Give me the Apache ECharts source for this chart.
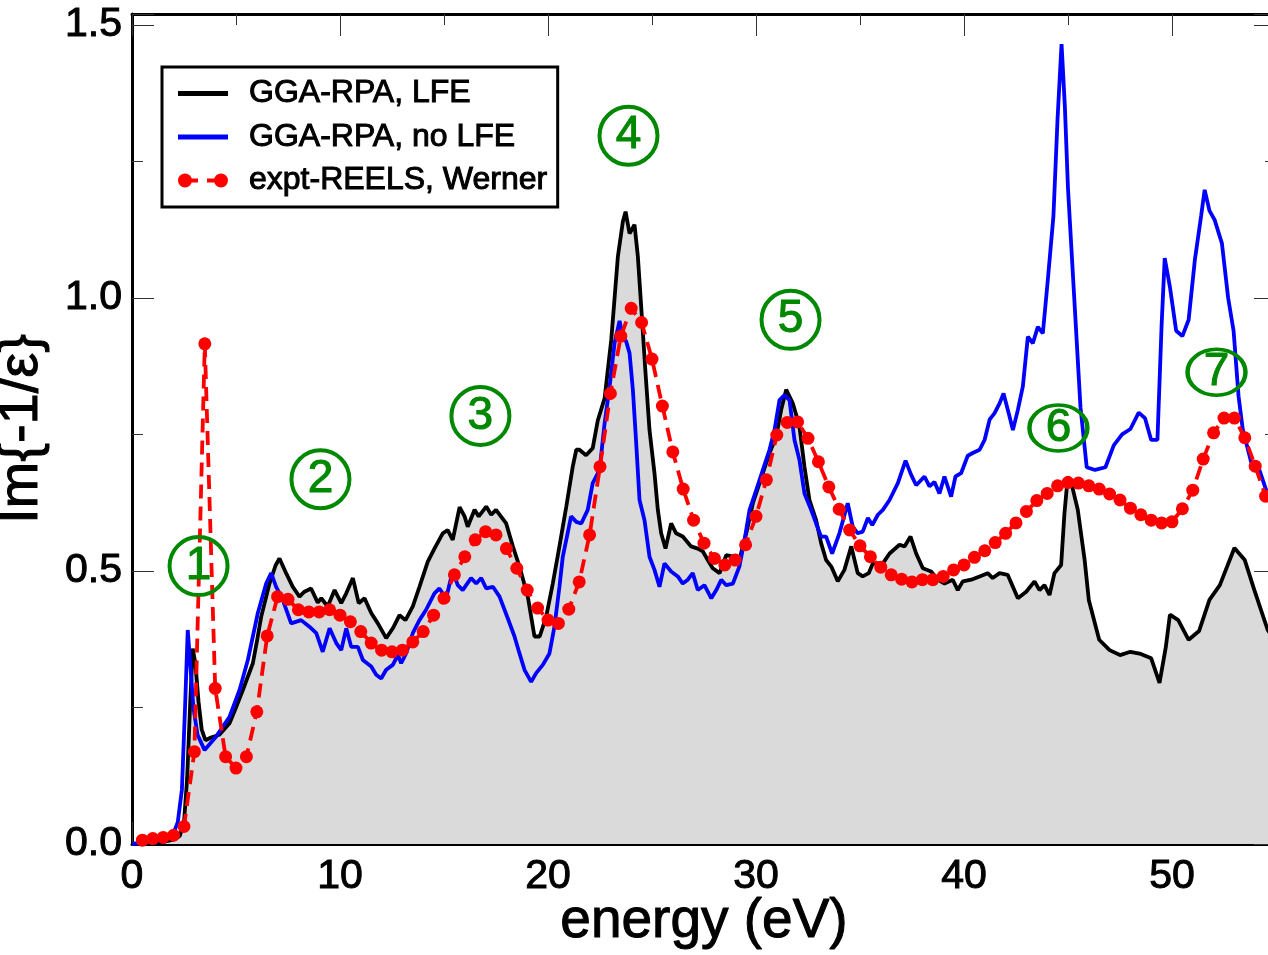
<!DOCTYPE html>
<html>
<head>
<meta charset="utf-8">
<script src="https://cdn.jsdelivr.net/npm/echarts@6/dist/echarts.min.js"></script>
<style>
html,body{margin:0;padding:0;background:#fff;}
#chart{width:1268px;height:955px;}
</style>
</head>
<body>
<div id="chart"></div>
<script>
// ---- data (energy eV, Im{-1/eps}) ----
const seriesNames = ['GGA-RPA, LFE', 'GGA-RPA, no LFE', 'expt-REELS, Werner'];

const lfe = [[0,0],[0.5,0.001],[1,0.002],[1.5,0.004],[2,0.008],[2.3,0.015],[2.5,0.04],[2.65,0.12],[2.8,0.26],[2.92,0.358],[3.05,0.33],[3.2,0.26],[3.35,0.21],[3.53,0.19],[3.8,0.195],[4.2,0.2],[4.69,0.221],[5.0,0.25],[5.33,0.282],[5.81,0.331],[6.0,0.37],[6.21,0.416],[6.61,0.477],[6.9,0.51],[7.09,0.523],[7.41,0.496],[7.73,0.471],[8.05,0.453],[8.29,0.462],[8.61,0.468],[8.93,0.442],[9.1,0.45],[9.41,0.435],[9.74,0.465],[10.06,0.441],[10.3,0.459],[10.62,0.487],[10.9,0.441],[11.18,0.45],[11.5,0.423],[11.82,0.404],[12.22,0.377],[12.54,0.395],[12.86,0.419],[13.15,0.41],[13.5,0.435],[13.82,0.471],[14.22,0.517],[14.54,0.541],[14.94,0.569],[15.18,0.575],[15.42,0.557],[15.75,0.617],[15.99,0.6],[16.14,0.581],[16.47,0.612],[16.67,0.6],[17.03,0.618],[17.27,0.603],[17.5,0.612],[17.99,0.587],[18.31,0.545],[18.63,0.508],[19.03,0.453],[19.35,0.38],[19.6,0.38],[19.91,0.416],[20.23,0.477],[20.55,0.545],[20.88,0.618],[21.19,0.691],[21.36,0.722],[21.51,0.722],[21.83,0.712],[22.15,0.725],[22.39,0.775],[22.72,0.816],[23.04,0.923],[23.36,1.076],[23.6,1.14],[23.73,1.158],[23.92,1.118],[24.16,1.134],[24.32,1.076],[24.48,0.984],[24.69,0.862],[24.88,0.758],[25.12,0.679],[25.28,0.612],[25.44,0.569],[25.65,0.541],[25.92,0.587],[26.16,0.569],[26.48,0.563],[26.88,0.545],[27.2,0.541],[27.44,0.536],[27.68,0.52],[27.92,0.505],[28.25,0.496],[28.57,0.529],[28.97,0.526],[29.2,0.52],[29.53,0.569],[29.85,0.624],[30.25,0.67],[30.65,0.716],[30.97,0.746],[31.21,0.795],[31.45,0.832],[31.77,0.807],[32.0,0.777],[32.09,0.764],[32.33,0.691],[32.57,0.63],[32.89,0.593],[33.13,0.551],[33.37,0.52],[33.62,0.508],[33.93,0.481],[34.25,0.502],[34.58,0.545],[34.89,0.496],[35.13,0.49],[35.42,0.496],[35.62,0.514],[36.1,0.514],[36.42,0.532],[36.9,0.548],[37.14,0.545],[37.43,0.563],[37.7,0.532],[38.02,0.505],[38.42,0.499],[38.74,0.484],[39.06,0.477],[39.46,0.484],[39.7,0.465],[39.94,0.481],[40.35,0.484],[40.75,0.49],[41.14,0.496],[41.38,0.487],[41.71,0.496],[42.1,0.493],[42.35,0.471],[42.59,0.45],[42.99,0.462],[43.39,0.481],[43.63,0.465],[43.87,0.474],[44.11,0.456],[44.35,0.496],[44.67,0.511],[44.83,0.606],[44.99,0.673],[45.2,0.655],[45.47,0.612],[45.8,0.52],[46.0,0.447],[46.5,0.374],[47.0,0.355],[47.5,0.346],[48.0,0.352],[48.5,0.348],[49.0,0.34],[49.4,0.295],[49.7,0.36],[49.9,0.42],[50.3,0.41],[50.8,0.374],[51.3,0.39],[51.8,0.447],[52.3,0.474],[53.0,0.542],[53.5,0.52],[53.96,0.465],[54.6,0.392],[55,0.37]];

const noLfe = [[0,0],[0.5,0.002],[1,0.004],[1.5,0.008],[2,0.02],[2.2,0.04],[2.4,0.1],[2.55,0.25],[2.68,0.392],[2.8,0.33],[2.95,0.25],[3.15,0.2],[3.49,0.172],[4.05,0.197],[4.69,0.233],[5.17,0.282],[5.57,0.337],[6.05,0.423],[6.45,0.477],[6.69,0.496],[6.93,0.471],[7.25,0.447],[7.65,0.404],[8.13,0.41],[8.53,0.398],[8.86,0.386],[9.17,0.352],[9.5,0.395],[9.82,0.368],[10.06,0.355],[10.3,0.395],[10.54,0.361],[10.86,0.361],[11.1,0.337],[11.5,0.325],[11.74,0.31],[11.98,0.303],[12.22,0.319],[12.54,0.328],[12.78,0.346],[12.94,0.331],[13.18,0.349],[13.5,0.386],[13.82,0.41],[14.14,0.429],[14.54,0.459],[14.78,0.468],[15.1,0.45],[15.42,0.5],[15.66,0.474],[15.9,0.465],[16.3,0.487],[16.55,0.477],[16.79,0.487],[17.03,0.468],[17.35,0.471],[17.67,0.453],[18.07,0.413],[18.39,0.38],[18.63,0.349],[18.87,0.319],[19.19,0.297],[19.43,0.313],[19.75,0.328],[20.07,0.349],[20.31,0.398],[20.55,0.471],[20.71,0.526],[21.11,0.6],[21.36,0.59],[21.6,0.587],[21.91,0.612],[22.15,0.661],[22.48,0.685],[22.72,0.77],[22.96,0.837],[23.2,0.917],[23.44,0.958],[23.6,0.929],[23.76,0.92],[23.92,0.899],[24.08,0.832],[24.24,0.734],[24.4,0.63],[24.64,0.593],[24.88,0.526],[25.12,0.502],[25.36,0.471],[25.6,0.514],[25.92,0.499],[26.24,0.49],[26.48,0.477],[26.72,0.484],[26.96,0.496],[27.2,0.465],[27.52,0.474],[27.85,0.45],[28.09,0.465],[28.33,0.484],[28.57,0.474],[28.89,0.477],[29.2,0.508],[29.45,0.557],[29.69,0.612],[30.01,0.648],[30.33,0.685],[30.65,0.722],[30.89,0.758],[31.13,0.813],[31.37,0.822],[31.61,0.813],[31.85,0.74],[32.09,0.703],[32.33,0.642],[32.65,0.612],[32.89,0.587],[33.13,0.563],[33.37,0.563],[33.66,0.532],[34.01,0.569],[34.41,0.624],[34.65,0.581],[34.89,0.569],[35.13,0.572],[35.38,0.597],[35.59,0.584],[35.86,0.603],[36.1,0.612],[36.42,0.63],[36.82,0.661],[37.19,0.702],[37.46,0.676],[37.7,0.657],[38.1,0.673],[38.34,0.655],[38.58,0.663],[38.82,0.642],[39.06,0.673],[39.38,0.636],[39.59,0.673],[39.86,0.679],[40.18,0.711],[40.42,0.716],[40.75,0.722],[40.99,0.74],[41.23,0.777],[41.47,0.789],[41.71,0.807],[41.9,0.825],[42.19,0.783],[42.35,0.758],[42.59,0.795],[42.83,0.838],[43.07,0.929],[43.31,0.917],[43.55,0.947],[43.79,0.935],[44.03,1.033],[44.3,1.15],[44.5,1.33],[44.69,1.465],[44.85,1.35],[45.0,1.2],[45.3,1.0],[45.6,0.8],[45.9,0.69],[46.3,0.685],[46.8,0.69],[47.2,0.73],[47.6,0.75],[48.0,0.76],[48.4,0.79],[48.7,0.78],[49.0,0.74],[49.3,0.74],[49.5,0.95],[49.65,1.073],[49.9,1.02],[50.2,0.94],[50.5,0.93],[50.8,0.96],[51.1,1.07],[51.4,1.15],[51.57,1.198],[51.8,1.16],[52.05,1.143],[52.4,1.1],[52.7,1.0],[52.96,0.94],[53.2,0.82],[53.4,0.76],[53.8,0.7],[54.2,0.685],[54.6,0.64],[55,0.6]];

const exptE = [0.5,1.0,1.5,2.0,2.5,3.0,3.5,4.0,4.5,5.0,5.5,6.0,6.5,7.0,7.5,8.0,8.5,9.0,9.5,10.0,10.5,11.0,11.5,12.0,12.5,13.0,13.5,14.0,14.5,15.0,15.5,16.0,16.5,17.0,17.5,18.0,18.5,19.0,19.5,20.0,20.5,21.0,21.5,22.0,22.5,23.0,23.5,24.0,24.5,25.0,25.5,26.0,26.5,27.0,27.5,28.0,28.5,29.0,29.5,30.0,30.5,31.0,31.5,32.0,32.5,33.0,33.5,34.0,34.5,35.0,35.5,36.0,36.5,37.0,37.5,38.0,38.5,39.0,39.5,40.0,40.5,41.0,41.5,42.0,42.5,43.0,43.5,44.0,44.5,45.0,45.5,46.0,46.5,47.0,47.5,48.0,48.5,49.0,49.5,50.0,50.5,51.0,51.5,52.0,52.5,53.0,53.5,54.0,54.5];
const exptV = [0.007,0.01,0.012,0.016,0.032,0.169,0.916,0.285,0.16,0.139,0.16,0.242,0.381,0.453,0.448,0.429,0.425,0.425,0.429,0.419,0.407,0.389,0.368,0.355,0.352,0.355,0.37,0.389,0.419,0.45,0.493,0.526,0.557,0.572,0.566,0.541,0.505,0.465,0.432,0.41,0.404,0.43,0.48,0.566,0.691,0.825,0.93,0.981,0.955,0.888,0.802,0.718,0.65,0.593,0.551,0.523,0.511,0.52,0.548,0.6,0.667,0.749,0.772,0.773,0.743,0.7,0.654,0.613,0.575,0.546,0.526,0.507,0.493,0.485,0.48,0.484,0.484,0.49,0.502,0.511,0.525,0.537,0.552,0.569,0.588,0.609,0.629,0.642,0.656,0.662,0.661,0.656,0.65,0.641,0.63,0.615,0.603,0.593,0.588,0.59,0.614,0.648,0.705,0.753,0.78,0.78,0.744,0.692,0.637];

// peak annotations: label, energy, value
const peakLabels = ['1','2','3','4','5','6','7'];
const peakE = [3.2, 9.06, 16.75, 23.87, 31.66, 44.54, 52.14];
const peakV = [0.509, 0.668, 0.784, 1.297, 0.96, 0.762, 0.864];
const peakOval = [false, false, false, false, false, true, true];

// axis ticks
const xTickLabels = [0, 10, 20, 30, 40, 50];
const yTickLabels = ['0.0', '0.5', '1.0', '1.5'];

const FONT = 'Liberation Sans, Arial, Helvetica, sans-serif';
const GREEN = '#008800';

const chart = echarts.init(document.getElementById('chart'), null, {renderer: 'canvas'});

const tickStyle = {show: true, inside: true, length: 22, lineStyle: {color: '#333', width: 1}};
const minorStyle = {show: true, splitNumber: 2, length: 11, lineStyle: {color: '#333', width: 1}};
const frameLine = {show: true, onZero: false, lineStyle: {color: '#000', width: 3}};
const heavy = c => ({textBorderColor: c, textBorderWidth: 1});

const expt = exptE.map((e, i) => [e, exptV[i]]);
const peaks = peakE.map((e, i) => ({
  value: [e, peakV[i]],
  name: peakLabels[i],
  symbolSize: peakOval[i] ? [58, 46] : [58, 58]
}));

// legend icons; invisible move-to points pad the box to 50x28
const lineIcon = 'path://M0,0 M0,11.5 L50,11.5 L50,16.5 L0,16.5 Z M50,28';
const dotIcon = 'path://M0,0 M0,14 A7,7 0 1,1 14,14 A7,7 0 1,1 0,14 Z' +
  ' M13.5,12 L20,12 L20,16 L13.5,16 Z M29,12 L36.5,12 L36.5,16 L29,16 Z' +
  ' M36,14 A7,7 0 1,1 50,14 A7,7 0 1,1 36,14 Z M50,28';

chart.setOption({
  animation: false,
  backgroundColor: '#fff',
  grid: {left: 132, top: 14, width: 1144, height: 830, containLabel: false, outerBoundsMode: 'none'},
  legend: {
    data: [
      {name: seriesNames[0], icon: lineIcon},
      {name: seriesNames[1], icon: lineIcon},
      {name: seriesNames[2], icon: dotIcon}
    ],
    orient: 'vertical',
    left: 162, top: 67,
    borderColor: '#000', borderWidth: 3,
    padding: [10, 10, 10, 16],
    itemWidth: 50, itemHeight: 28, itemGap: 10.5,
    textStyle: Object.assign({fontFamily: FONT, fontSize: 32, color: '#000', padding: [0, 0, 0, 16]}, heavy('#000')),
    backgroundColor: '#fff'
  },
  xAxis: [{
    type: 'value', min: 0, max: 55, interval: 10, position: 'bottom',
    name: 'energy (eV)', nameLocation: 'middle', nameGap: 50, nameMoveOverlap: false,
    nameTextStyle: Object.assign({fontFamily: FONT, fontSize: 55, color: '#000'}, heavy('#000')),
    axisLine: frameLine, axisTick: tickStyle, minorTick: minorStyle,
    splitLine: {show: false},
    axisLabel: Object.assign({fontFamily: FONT, fontSize: 41, color: '#000', margin: 12,
      formatter: v => xTickLabels.indexOf(v) >= 0 ? String(v) : ''}, heavy('#000'))
  }, {
    type: 'value', min: 0, max: 55, interval: 10, position: 'top',
    axisLine: frameLine, axisTick: tickStyle, minorTick: minorStyle,
    splitLine: {show: false}, axisLabel: {show: false}
  }],
  yAxis: [{
    type: 'value', min: 0, max: 1.52, interval: 0.5, position: 'left',
    name: 'Im{-1/ε}', nameLocation: 'middle', nameGap: 82, nameRotate: 90, nameMoveOverlap: false,
    nameTextStyle: Object.assign({fontFamily: FONT, fontSize: 56, color: '#000'}, heavy('#000')),
    axisLine: frameLine, axisTick: tickStyle, minorTick: minorStyle,
    splitLine: {show: false},
    axisLabel: Object.assign({fontFamily: FONT, fontSize: 41, color: '#000', margin: 10,
      formatter: v => { const s = v.toFixed(1); return (Math.abs(v * 2 - Math.round(v * 2)) < 1e-6 && yTickLabels.indexOf(s) >= 0) ? s : ''; }}, heavy('#000'))
  }, {
    type: 'value', min: 0, max: 1.52, interval: 0.5, position: 'right',
    axisLine: frameLine, axisTick: tickStyle, minorTick: minorStyle,
    splitLine: {show: false}, axisLabel: {show: false}
  }],
  series: [{
    name: seriesNames[0], type: 'line', data: lfe, symbol: 'none',
    lineStyle: {color: '#000', width: 3.8}, itemStyle: {color: '#000'},
    areaStyle: {color: '#dadada', opacity: 1, origin: 'start'}, z: 2
  }, {
    name: seriesNames[1], type: 'line', data: noLfe, symbol: 'none',
    lineStyle: {color: '#0000ff', width: 3.8}, itemStyle: {color: '#0000ff'}, z: 3
  }, {
    name: seriesNames[2], type: 'line', data: expt, symbol: 'circle', symbolSize: 13,
    lineStyle: {color: '#ff0000', width: 3.8, type: [14, 8]}, itemStyle: {color: '#ff0000'}, z: 4
  }, {
    name: 'peaks', type: 'scatter', data: peaks, symbol: 'circle',
    itemStyle: {color: 'rgba(0,0,0,0)', borderColor: GREEN, borderWidth: 4, opacity: 1},
    label: Object.assign({show: true, position: 'inside', formatter: p => p.name,
      fontFamily: FONT, fontSize: 46, color: GREEN, opacity: 1}, heavy(GREEN)),
    emphasis: {disabled: true},
    z: 6, silent: true
  }]
});
</script>
</body>
</html>
